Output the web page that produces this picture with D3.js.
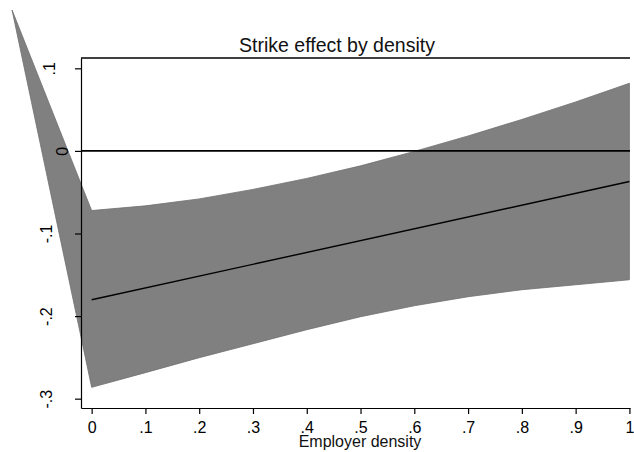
<!DOCTYPE html>
<html>
<head>
<meta charset="utf-8">
<script src="https://cdn.jsdelivr.net/npm/d3@7"></script>
<style>
  body { margin: 0; background: #fff; }
  svg { display: block; font-family: "Liberation Sans", Arial, sans-serif; }
</style>
</head>
<body>
<svg width="634" height="452"></svg>
<script>
// values
const density = [0, 0.1, 0.2, 0.3, 0.4, 0.5, 0.6, 0.7, 0.8, 0.9, 1];
const upperCI = [-0.0722, -0.0665, -0.0581, -0.0466, -0.0333, -0.0181, -0.0006, 0.0181, 0.0381, 0.0593, 0.0819];
const lowerCI = [-0.2863, -0.2685, -0.2504, -0.2335, -0.2165, -0.2008, -0.1875, -0.1766, -0.1681, -0.1621, -0.1560];
const fitX = [0, 1];
const fitY = [-0.1802, -0.0371];
// stray vertex the band polygon closes on (outside the plot region)
const strayX = [-0.148];
const strayY = [0.1706];

const xTicks = [0, 0.1, 0.2, 0.3, 0.4, 0.5, 0.6, 0.7, 0.8, 0.9, 1];
const xTickLabels = ["0", ".1", ".2", ".3", ".4", ".5", ".6", ".7", ".8", ".9", "1"];
const yTicks = [-0.3, -0.2, -0.1, 0, 0.1];
const yTickLabels = ["-.3", "-.2", "-.1", "0", ".1"];

const svg = d3.select("svg");

const x = d3.scaleLinear()
    .domain([-0.0198, 1.0011])
    .range([81, 630]);

const y = d3.scaleLinear()
    .domain([-0.3113, 0.1125])
    .range([408, 58]);

// band polygon: stray point, upper edge left to right, lower edge back
let band = [[strayX[0], strayY[0]]];
density.forEach((d, i) => band.push([d, upperCI[i]]));
for (let i = density.length - 1; i >= 0; i--) band.push([density[i], lowerCI[i]]);

svg.append("path")
    .datum(band)
    .attr("d", d3.line().x(d => x(d[0])).y(d => y(d[1])).curve(d3.curveLinearClosed))
    .attr("fill", "#808080")
    .attr("stroke", "#6e6e6e")
    .attr("stroke-width", 0.8);

// reference line at zero
svg.append("line")
    .attr("x1", x.range()[0]).attr("x2", x.range()[1])
    .attr("y1", y(0)).attr("y2", y(0))
    .attr("stroke", "#000")
    .attr("stroke-width", 1.8);

// fitted line
svg.append("path")
    .datum(fitX.map((d, i) => [d, fitY[i]]))
    .attr("d", d3.line().x(d => x(d[0])).y(d => y(d[1])))
    .attr("fill", "none")
    .attr("stroke", "#000")
    .attr("stroke-width", 1.4);

// top border
svg.append("line")
    .attr("x1", x.range()[0]).attr("x2", x.range()[1])
    .attr("y1", y.range()[1]).attr("y2", y.range()[1])
    .attr("stroke", "#000")
    .attr("stroke-width", 1.4);

var xAxis = d3.axisBottom(x)
    .tickValues(xTicks)
    .tickFormat((d, i) => xTickLabels[i])
    .tickSize(6)
    .tickSizeOuter(0);

var gX = svg.append("g")
    .attr("transform", `translate(0,${y.range()[0]})`)
    .call(xAxis);

gX.selectAll(".tick text")
    .attr("y", 25)
    .attr("dy", null)
    .attr("font-size", 16)
    .attr("font-family", null)
    .attr("fill", "#000");

var yAxis = d3.axisLeft(y)
    .tickValues(yTicks)
    .tickFormat((d, i) => yTickLabels[i])
    .tickSize(6)
    .tickSizeOuter(0);

var gY = svg.append("g")
    .attr("transform", `translate(${x.range()[0]},0)`)
    .call(yAxis);

gY.selectAll(".tick text")
    .attr("transform", "rotate(-90)")
    .attr("x", 0)
    .attr("y", d => d === 0 ? -13 : (d > 0 ? -26 : -29))
    .attr("dy", null)
    .attr("text-anchor", "middle")
    .attr("font-size", 16)
    .attr("font-family", null)
    .attr("fill", "#000");

svg.selectAll(".domain, .tick line")
    .attr("stroke", "#000")
    .attr("stroke-width", 1.2);

svg.append("text")
    .attr("x", 337)
    .attr("y", 51.5)
    .attr("text-anchor", "middle")
    .attr("font-size", 19.5)
    .attr("fill", "#111")
    .text("Strike effect by density");

svg.append("text")
    .attr("x", 360)
    .attr("y", 446.5)
    .attr("text-anchor", "middle")
    .attr("font-size", 16)
    .attr("fill", "#111")
    .text("Employer density");
</script>
</body>
</html>
